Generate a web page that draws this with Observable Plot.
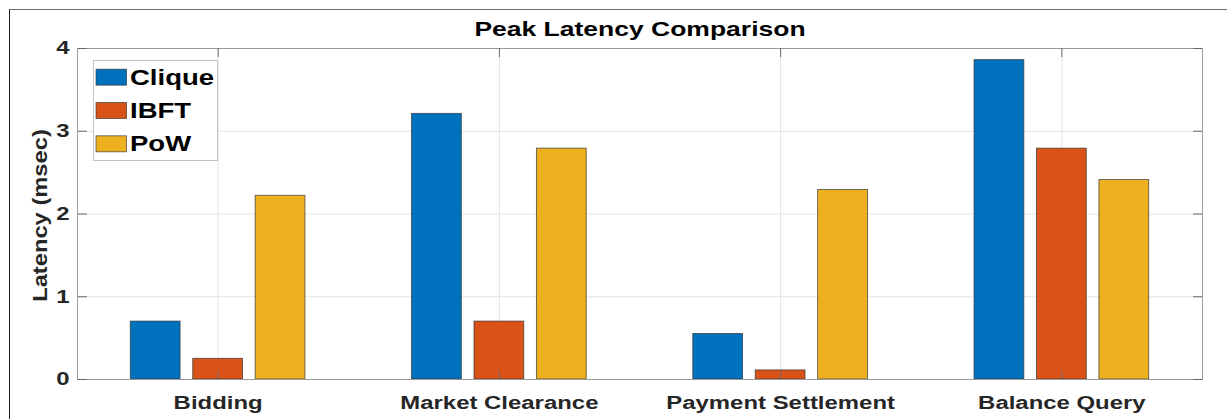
<!DOCTYPE html>
<html><head><meta charset="utf-8">
<script src="https://cdn.jsdelivr.net/npm/d3@7"></script>
<script src="https://cdn.jsdelivr.net/npm/@observablehq/plot@0.6"></script>
<style>
body{margin:0;background:#fff}
#wrap{position:relative;width:1227px;height:419px;overflow:hidden;background:#fff}
#border{position:absolute;left:9px;top:9px;width:1400px;height:600px;border-top:1.5px solid #707070;border-left:1.5px solid #1a1a1a;pointer-events:none}
</style></head><body><div id="wrap"><div id="border"></div></div>
<script>
// ---- data ----
const categories = ["Bidding", "Market Clearance", "Payment Settlement", "Balance Query"];
const seriesNames = ["Clique", "IBFT", "PoW"];
const cliqueValues = [0.70, 3.21, 0.55, 3.86];
const ibftValues = [0.25, 0.70, 0.11, 2.79];
const powValues = [2.22, 2.79, 2.29, 2.41];
const yTicks = [0, 1, 2, 3, 4];
const title = "Peak Latency Comparison";
const yLabel = "Latency (msec)";
const colors = ["#0072BD", "#D95319", "#EDB120"];

// ---- layout ----
const W = 1227, H = 419, mL = 77, mR = 25, mT = 48, mB = 40;
const plotW = W - mL - mR, plotH = H - mT - mB;
const groupOffset = 0.222, halfBar = 0.0885;
const SX = 1.28; // horizontal text stretch
const font = "'Liberation Sans', Arial, Helvetica, sans-serif";
const tickColor = "#6a6a6a";

const seriesValues = [cliqueValues, ibftValues, powValues];
const rows = [];
seriesNames.forEach((s, si) => categories.forEach((c, ci) => rows.push({s, si, c, ci: ci + 1, value: seriesValues[si][ci]})));
const catIdx = categories.map((c, i) => i + 1);

const plot = Plot.plot({
  width: W, height: H,
  marginLeft: mL, marginRight: mR, marginTop: mT, marginBottom: mB,
  x: {domain: [0.5, 4.5]},
  y: {domain: [0, 4]},
  color: {domain: seriesNames, range: colors},
  style: {fontFamily: font, background: "white", overflow: "visible"},
  marks: [
    Plot.gridY([1, 2, 3], {stroke: "#e4e4e4", strokeOpacity: 1}),
    Plot.gridX(catIdx, {stroke: "#e4e4e4", strokeOpacity: 1}),
    Plot.rect(rows, {
      x1: d => d.ci + (d.si - 1) * groupOffset - halfBar,
      x2: d => d.ci + (d.si - 1) * groupOffset + halfBar,
      y1: d => 0, y2: "value", fill: "s",
      stroke: "#333", strokeWidth: 0.9, strokeOpacity: 0.75
    }),
    Plot.frame({stroke: "#9b9b9b"}),
    // inward ticks
    Plot.axisY(yTicks, {anchor: "right", dx: -plotW, tickSize: 9, tickFormat: () => "", label: null, stroke: tickColor}),
    Plot.axisY(yTicks, {anchor: "left", dx: plotW, tickSize: 9, tickFormat: () => "", label: null, stroke: tickColor}),
    Plot.axisX(catIdx, {anchor: "top", dy: plotH, tickSize: 9, tickFormat: () => "", label: null, stroke: tickColor}),
    Plot.axisX(catIdx, {anchor: "bottom", dy: -plotH, tickSize: 9, tickFormat: () => "", label: null, stroke: tickColor}),
    // labels
    Plot.axisY(yTicks, {anchor: "left", tickSize: 0, tickPadding: 8, label: null, tickFormat: d => String(d), fontSize: 18.7, fontWeight: "bold", fill: "#262626"}),
    Plot.axisX(catIdx, {anchor: "bottom", tickSize: 0, tickPadding: 16, label: null, tickFormat: i => categories[i - 1], fontSize: 18.7, fontWeight: "bold", fill: "#262626"}),
    Plot.text([yLabel], {text: d => d, frameAnchor: "left", textAnchor: "middle", lineAnchor: "middle", rotate: -90, dx: -37.5, dy: 1.5, fontSize: 21, fontWeight: "bold", fill: "#262626"}),
    Plot.text([title], {text: d => d, frameAnchor: "top", lineAnchor: "top", dy: -27, fontSize: 20.7, fontWeight: "bold", fill: "#000"})
  ]
});

// legend drawn inside the SVG
const g = d3.select(plot).append("g").attr("class", "legend");
const lx = 93.5, ly = 60.5, lw = 124, lh = 100;
g.append("rect").attr("x", lx).attr("y", ly).attr("width", lw).attr("height", lh)
  .attr("fill", "white").attr("stroke", "#c4c4c4");
const rowH = lh / seriesNames.length;
seriesNames.forEach((s, i) => {
  const cy = ly + rowH * (i + 0.5);
  g.append("rect").attr("x", 96).attr("y", cy - 8).attr("width", 30.5).attr("height", 16)
    .attr("fill", colors[i]).attr("stroke", "#333").attr("stroke-width", 0.8).attr("stroke-opacity", 0.8);
  g.append("text").attr("transform", `translate(130,${cy})`).attr("dominant-baseline", "central")
    .attr("text-anchor", "start")
    .attr("font-size", 21.5).attr("font-weight", "bold").attr("fill", "#000").attr("font-family", font).text(s);
});

// horizontal stretch of text (as in the reference)
plot.querySelectorAll("text").forEach(el => {
  if (!el.textContent) return;
  const t = el.getAttribute("transform") || "";
  let pre = "";
  const xa = el.getAttribute("x"), ya = el.getAttribute("y");
  const nx = xa !== null && xa.trim() !== "" && isFinite(+xa) ? +xa : null;
  const ny = ya !== null && ya.trim() !== "" && isFinite(+ya) ? +ya : null;
  if (nx !== null || ny !== null) {
    pre = ` translate(${nx ?? 0},${ny ?? 0})`;
    if (nx !== null) el.removeAttribute("x");
    if (ny !== null) el.removeAttribute("y");
  }
  const k = el.textContent === yLabel ? 1.13 : SX;
  el.setAttribute("transform", `${t}${pre} scale(${k},1)`);
});

document.getElementById("wrap").prepend(plot);
</script></body></html>
